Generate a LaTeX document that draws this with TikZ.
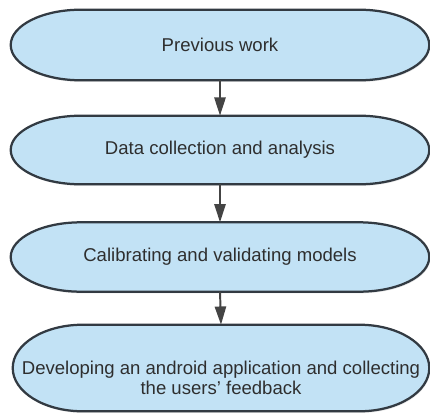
\documentclass[tikz,border=0pt]{standalone}
\usepackage{fontspec}
\setmainfont{Liberation Sans}
\usetikzlibrary{arrows.meta,calc,backgrounds,shadows}

\definecolor{capfill}{RGB}{194,226,245}
\definecolor{capline}{RGB}{50,58,66}
\definecolor{flowgray}{RGB}{68,68,68}

\tikzset{
  phase/.style={minimum width=10.45cm, inner sep=0pt, align=center, text=black!82,
    font=\fontsize{13.2}{14.5}\selectfont},
  capsule/.style={draw=capline, line width=1.6pt, fill=capfill,
    drop shadow={opacity=0.18, shadow xshift=0.6pt, shadow yshift=-1.2pt}},
  flow/.style={draw=flowgray, line width=1.4pt, -{Triangle[length=13pt,width=8pt]}}
}

\newcommand\drawcapsule[1]{%
  \begin{scope}[on background layer]
  \path[capsule] let \p1=(#1.north), \p2=(#1.south), \n1={(\y1-\y2)/2} in
    ([xshift=1.75cm]#1.north west) -- ([xshift=-1.75cm]#1.north east)
    arc[start angle=90, end angle=-90, x radius=1.75cm, y radius=\n1]
    -- ([xshift=1.75cm]#1.south west)
    arc[start angle=270, end angle=90, x radius=1.75cm, y radius=\n1] -- cycle;
  \end{scope}}

\begin{document}
\begin{tikzpicture}
\useasboundingbox (0,0) rectangle (10.75,10.3);
\node[phase, minimum height=1.75cm] (prev) at (5.5,9.175) {Previous work};
\node[phase, minimum height=1.7cm] (data) at (5.5,6.55) {Data collection and analysis};
\node[phase, minimum height=1.72cm] (calib) at (5.5,3.875) {Calibrating and validating models};
\node[phase, minimum height=2.15cm, minimum width=10.4cm] (app) at (5.525,1.1)
  {\rule{0pt}{24pt}Developing an android application and collecting\\the users' feedback};
\drawcapsule{prev}
\drawcapsule{data}
\drawcapsule{calib}
\drawcapsule{app}
\draw[flow] (prev.south) -- (data.north);
\draw[flow] (data.south) -- (calib.north);
\draw[flow] (calib.south) -- (app.north);
\end{tikzpicture}
\end{document}
